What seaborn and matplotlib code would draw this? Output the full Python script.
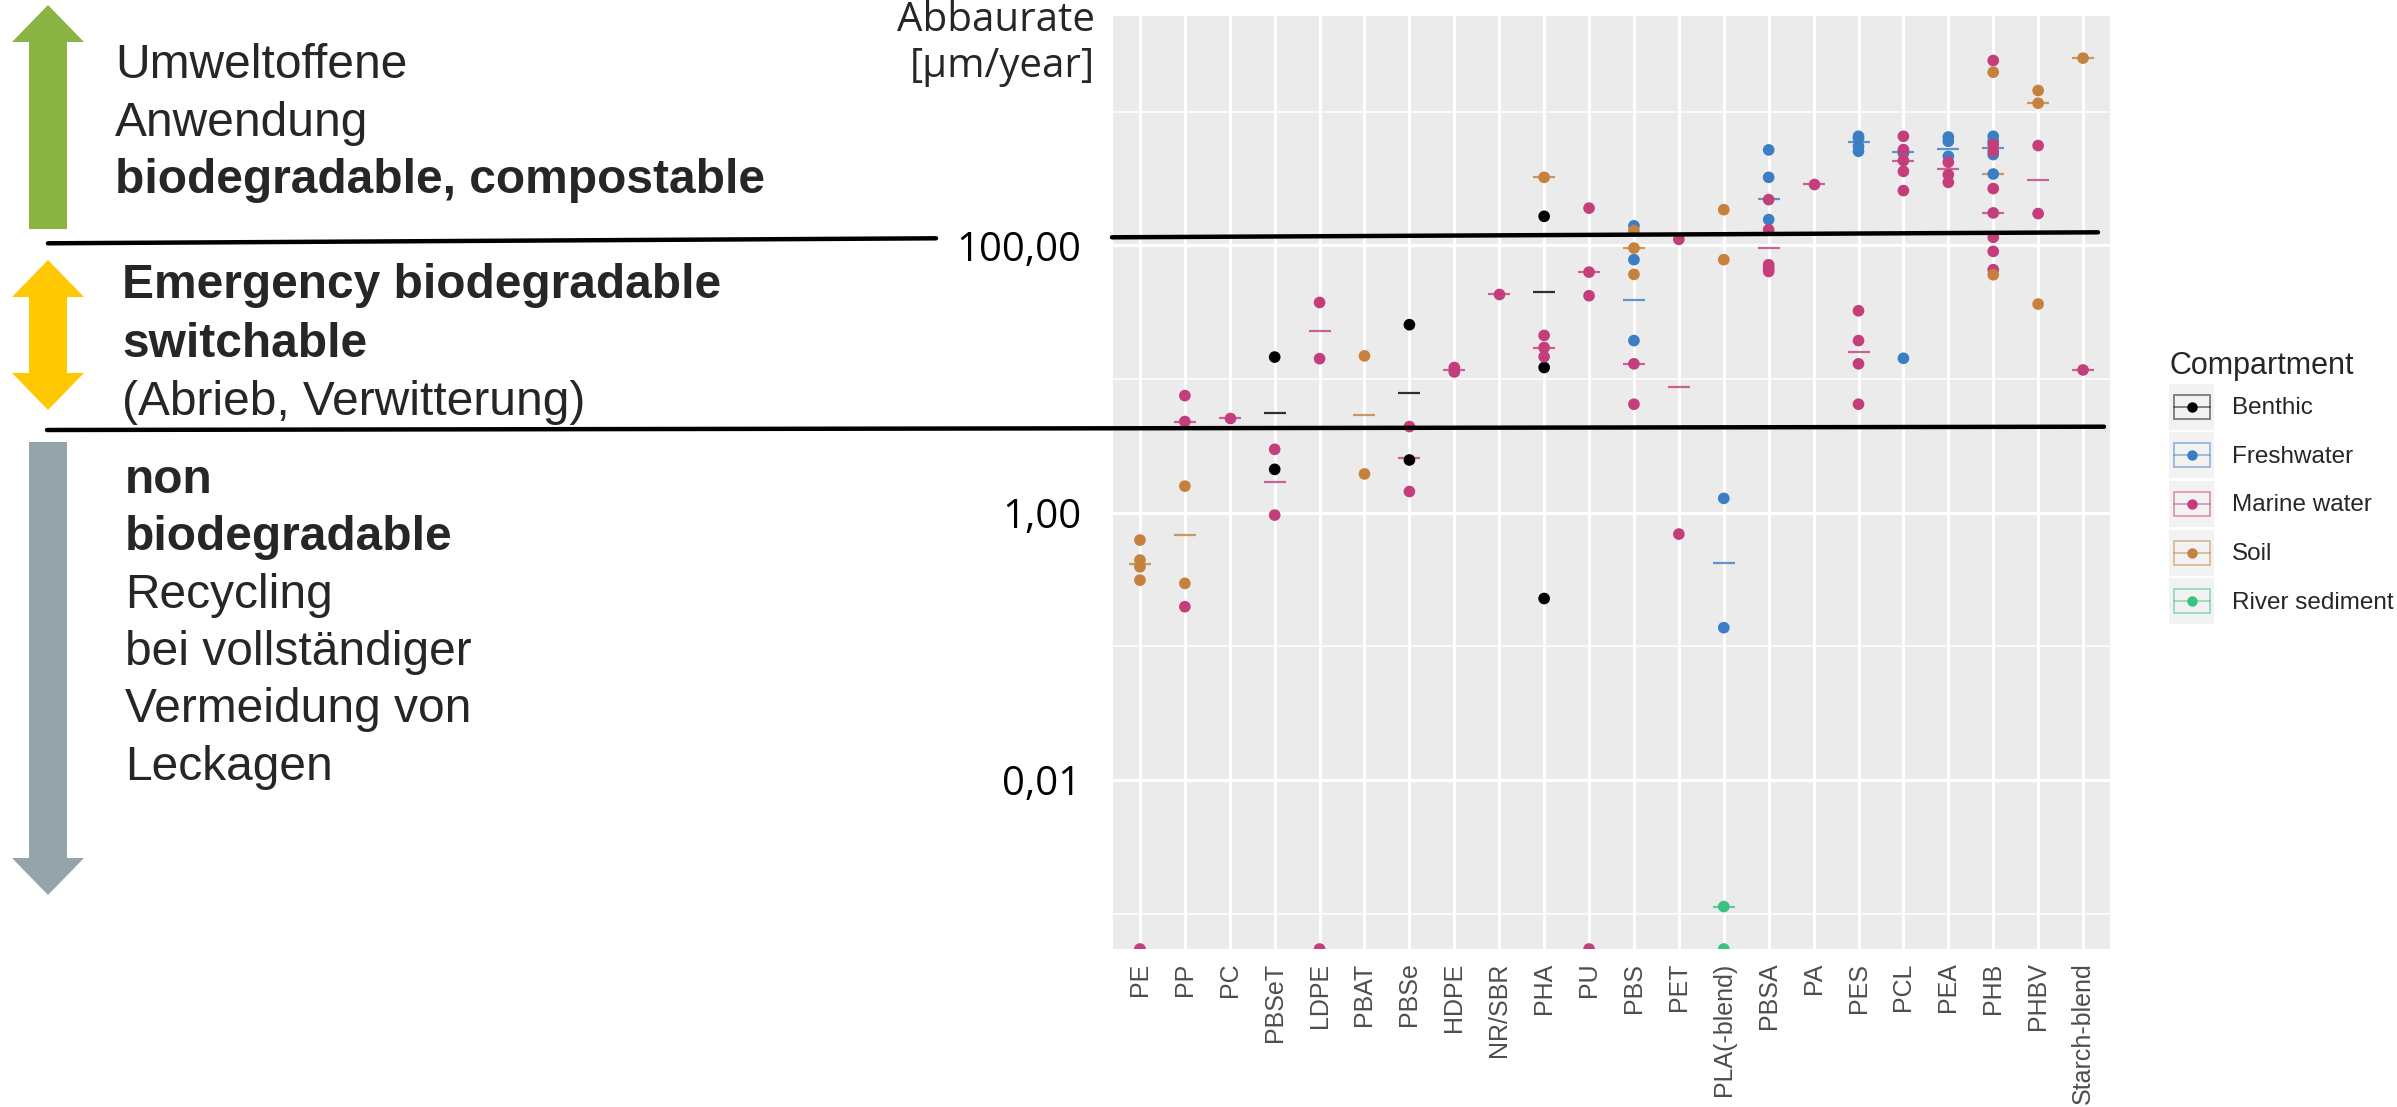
import matplotlib
matplotlib.use("Agg")
import matplotlib.pyplot as plt
import numpy as np
import pandas as pd
import seaborn as sns
from matplotlib.lines import Line2D
from matplotlib.patches import Polygon, Rectangle
from matplotlib.legend_handler import HandlerBase
from matplotlib.ticker import FixedLocator, NullFormatter

# categories / legend
polymers = ["PE", "PP", "PC", "PBSeT", "LDPE", "PBAT", "PBSe", "HDPE", "NR/SBR", "PHA", "PU",
            "PBS", "PET", "PLA(-blend)", "PBSA", "PA", "PES", "PCL", "PEA", "PHB", "PHBV", "Starch-blend"]
compartments = ["Benthic", "Freshwater", "Marine water", "Soil", "River sediment"]
colours = ["#000000", "#3B7EC4", "#C43E7C", "#C5813D", "#3CC27F"]

# single measurements [um/year], 0 = not measurable (drawn at the bottom edge like ggplot -Inf)
benthic_polymer = ["PBSeT", "PBSeT", "PBSe", "PBSe", "PHA", "PHA", "PHA"]
benthic_rate = [14.6, 2.11, 25.5, 2.48, 165, 12.2, 0.228]

freshwater_polymer = ["PBS", "PBS", "PBS", "PLA(-blend)", "PLA(-blend)", "PBSA", "PBSA", "PBSA",
                      "PES", "PES", "PES", "PES", "PCL", "PCL", "PCL", "PEA", "PEA", "PEA",
                      "PHB", "PHB", "PHB", "PHB"]
freshwater_rate = [140, 78.2, 19.4, 1.28, 0.138, 518, 323, 156,
                   655, 631, 552, 506, 500, 490, 14.3, 647, 601, 464,
                   655, 601, 478, 342]

marine_polymer = ["PE", "PP", "PP", "PP", "PC", "PBSeT", "PBSeT", "LDPE", "LDPE", "LDPE",
                  "PBSe", "PBSe", "HDPE", "HDPE", "NR/SBR", "PHA", "PHA", "PHA",
                  "PU", "PU", "PU", "PU", "PBS", "PBS", "PET", "PET",
                  "PBSA", "PBSA", "PBSA", "PBSA", "PBSA", "PA",
                  "PES", "PES", "PES", "PES", "PCL", "PCL", "PCL", "PCL", "PCL",
                  "PEA", "PEA", "PEA", "PHB", "PHB", "PHB", "PHB", "PHB", "PHB", "PHB", "PHB",
                  "PHBV", "PHBV", "Starch-blend"]
marine_rate = [0, 7.52, 4.81, 0.198, 5.15, 2.98, 0.96, 37.4, 14.2, 0,
               4.41, 1.44, 12.2, 11.3, 43.4, 21.2, 17.2, 14.7,
               190, 63.1, 42.0, 0, 13.0, 6.48, 111, 0.692,
               220, 131, 71.6, 67.6, 63.8, 290,
               32.4, 19.4, 13.0, 6.48, 655, 521, 431, 358, 257,
               419, 338, 296, 2416, 568, 506, 266, 175, 115, 90.2, 65.8,
               558, 173, 11.7]

soil_polymer = ["PE", "PE", "PE", "PE", "PP", "PP", "PBAT", "PBAT", "PHA", "PBS", "PBS", "PBS",
                "PLA(-blend)", "PLA(-blend)", "PHB", "PHB", "PHBV", "PHBV", "PHBV", "Starch-blend"]
soil_rate = [0.624, 0.442, 0.394, 0.313, 1.58, 0.296, 14.9, 1.95, 323, 129, 95.5, 60.7,
             185, 78.2, 1977, 60.3, 1442, 1158, 36.4, 2518]

river_polymer = ["PLA(-blend)", "PLA(-blend)"]
river_rate = [0.00113, 0]

# median bars per polymer and compartment
benthic_med_polymer = ["PBSeT", "PBSe", "PHA"]
benthic_med = [5.55, 7.92, 44.7]
freshwater_med_polymer = ["PBS", "PLA(-blend)", "PBSA", "PES", "PCL", "PEA", "PHB"]
freshwater_med = [39.2, 0.422, 224, 591, 498, 527, 536]
marine_med_polymer = ["PP", "PC", "PBSeT", "LDPE", "PBSe", "HDPE", "NR/SBR", "PHA", "PU", "PBS",
                      "PET", "PBSA", "PA", "PES", "PCL", "PEA", "PHB", "PHBV", "Starch-blend"]
marine_med = [4.81, 5.15, 1.71, 22.9, 2.55, 11.7, 43.4, 17.2, 63.1, 13.0,
              8.79, 96.1, 290, 15.8, 431, 373, 175, 310, 11.7]
soil_med_polymer = ["PE", "PP", "PBAT", "PHA", "PBS", "PLA(-blend)", "PHB", "PHBV", "Starch-blend"]
soil_med = [0.412, 0.684, 5.39, 323, 95.5, 120, 342, 1158, 2518]
river_med_polymer = ["PLA(-blend)"]
river_med = [0.00113]

W, H = 2397, 1107


def fx(x):
    return x / W


def fy(y):
    return 1 - y / H


# legend key like ggplot crossbar + point
class KeyHandler(HandlerBase):
    def create_artists(self, legend, orig_handle, xdescent, ydescent, width, height, fontsize, trans):
        c = orig_handle.get_color()
        x0, y0 = -xdescent, -ydescent
        bg = Rectangle((x0, y0), width, height, facecolor="#F2F2F2", edgecolor="none", transform=trans)
        box = Rectangle((x0 + 0.11 * width, y0 + 0.24 * height), 0.8 * width, 0.52 * height,
                        facecolor="none", edgecolor=c, alpha=0.5, lw=1.3, transform=trans)
        mid = Line2D([x0 + 0.11 * width, x0 + 0.91 * width], [y0 + height / 2] * 2,
                     color=c, alpha=0.5, lw=1.3, transform=trans)
        dot = Line2D([x0 + 0.51 * width], [y0 + height / 2], marker="o", ms=7.5,
                     color=c, mec="none", transform=trans)
        return [bg, box, mid, dot]


def build_frame(groups):
    frames = []
    for comp, pol, val in groups:
        frames.append(pd.DataFrame({"polymer": pol, "compartment": comp, "rate": val}))
    return pd.concat(frames, ignore_index=True)


def plot_abbaurate():
    points = build_frame([("Benthic", benthic_polymer, benthic_rate),
                          ("Freshwater", freshwater_polymer, freshwater_rate),
                          ("Marine water", marine_polymer, marine_rate),
                          ("Soil", soil_polymer, soil_rate),
                          ("River sediment", river_polymer, river_rate)])
    medians = build_frame([("Benthic", benthic_med_polymer, benthic_med),
                           ("Freshwater", freshwater_med_polymer, freshwater_med),
                           ("Marine water", marine_med_polymer, marine_med),
                           ("Soil", soil_med_polymer, soil_med),
                           ("River sediment", river_med_polymer, river_med)])

    # ggplot style limits: 5% expansion on log scale, zeros go to the lower edge
    pos = points.loc[points["rate"] > 0, "rate"]
    lo, hi = np.log10(pos.min()), np.log10(pos.max())
    pad = 0.05 * (hi - lo)
    ylim = (10 ** (lo - pad), 10 ** (hi + pad))
    points.loc[points["rate"] <= 0, "rate"] = ylim[0]

    sns.set_style("darkgrid", {"axes.facecolor": "#EBEBEB", "grid.color": "white"})
    plt.rcParams["font.family"] = ["Liberation Sans", "DejaVu Sans"]

    fig = plt.figure(figsize=(W / 100, H / 100), dpi=100)
    ax = fig.add_axes([fx(1113), fy(949), fx(2110) - fx(1113), fy(15.7) - fy(949)])
    pal = dict(zip(compartments, colours))

    sns.stripplot(data=points, x="polymer", y="rate", hue="compartment", order=polymers,
                  hue_order=compartments, palette=pal, jitter=False, dodge=False, size=8.4,
                  linewidth=0, log_scale=True, legend=False, ax=ax, zorder=3)
    sns.pointplot(data=medians, x="polymer", y="rate", hue="compartment", order=polymers,
                  hue_order=compartments, palette=pal, markers="_", linestyles="none",
                  dodge=False, errorbar=None, markersize=16, markeredgewidth=1.6, alpha=0.8,
                  legend=False, ax=ax)

    ax.set_ylim(*ylim)
    ax.set_xlim(-0.6, len(polymers) - 0.4)
    ax.set_xlabel("")
    ax.set_ylabel("")
    for s in ax.spines.values():
        s.set_visible(False)

    ax.yaxis.set_major_locator(FixedLocator([0.01, 1, 100]))
    ax.set_yticklabels(["0,01", "1,00", "100,00"], fontfamily="Open Sans", fontsize=29, color="black")
    ax.yaxis.set_minor_locator(FixedLocator([0.001, 0.1, 10, 1000]))
    ax.yaxis.set_minor_formatter(NullFormatter())
    ax.tick_params(axis="y", which="minor", length=0)
    ax.tick_params(axis="y", which="major", length=5.8, width=1.8, color="#333333", pad=17)
    ax.tick_params(axis="x", length=5.8, width=1.8, color="#333333", pad=4, labelsize=18,
                   labelcolor="#4D4D4D", rotation=90)
    ax.grid(which="major", color="white", lw=2.2)
    ax.grid(which="minor", axis="y", color="white", lw=1.1)

    # axis title written as free text like in the slide
    fig.text(fx(1095), fy(31), "Abbaurate", ha="right", va="baseline", fontsize=29, family="Open Sans")
    fig.text(fx(1095), fy(77), "[µm/year]", ha="right", va="baseline", fontsize=29, family="Open Sans")

    # legend
    handles = [Line2D([], [], color=c) for c in colours]
    ax.legend(handles, compartments, handler_map={Line2D: KeyHandler()}, title="Compartment",
              loc="upper left", bbox_to_anchor=(fx(2157), fy(339)), bbox_transform=fig.transFigure,
              frameon=False, fontsize=17.5, title_fontsize=22, alignment="left", borderpad=0,
              handlelength=1.85, handleheight=2.53, handletextpad=0.73, labelspacing=0.11)

    # arrows on the left
    cx, hw, sw = 48, 36, 19
    green = [(cx, 5), (cx + hw, 42), (cx + sw, 42), (cx + sw, 229), (cx - sw, 229), (cx - sw, 42), (cx - hw, 42)]
    yellow = [(cx, 260), (cx + hw, 297), (cx + sw, 297), (cx + sw, 373), (cx + hw, 373), (cx, 410),
              (cx - hw, 373), (cx - sw, 373), (cx - sw, 297), (cx - hw, 297)]
    grey = [(cx - sw, 442), (cx + sw, 442), (cx + sw, 858), (cx + hw, 858), (cx, 895), (cx - hw, 858), (cx - sw, 858)]
    for pts, col in [(green, "#8AB544"), (yellow, "#FFC800"), (grey, "#95A3AA")]:
        fig.add_artist(Polygon([(fx(x), fy(y)) for x, y in pts], closed=True, facecolor=col,
                               edgecolor="none", transform=fig.transFigure))

    # separating lines
    for (x1, y1), (x2, y2) in [((48, 243.3), (936, 238.3)), ((1112, 237.3), (2098, 232.3)),
                               ((47, 430), (2104, 426.7))]:
        fig.add_artist(Line2D([fx(x1), fx(x2)], [fy(y1), fy(y2)], color="black", lw=3.2,
                              transform=fig.transFigure, zorder=5))

    # texts
    lines = [(115, 78, "Umweltoffene", "normal"), (115, 136, "Anwendung", "normal"),
             (115, 193, "biodegradable, compostable", "bold"),
             (122, 298, "Emergency biodegradable", "bold"), (122, 357, "switchable", "bold"),
             (122, 415, "(Abrieb, Verwitterung)", "normal"),
             (125, 493, "non", "bold"), (125, 550, "biodegradable", "bold"),
             (125, 608, "Recycling", "normal"), (125, 665, "bei vollständiger", "normal"),
             (125, 722, "Vermeidung von", "normal"), (125, 780, "Leckagen", "normal")]
    for x, y, t, w in lines:
        fig.text(fx(x), fy(y), t, ha="left", va="baseline", fontsize=34.5, fontweight=w)

    fig.savefig("out.png", dpi=100)


if __name__ == "__main__":
    plot_abbaurate()
